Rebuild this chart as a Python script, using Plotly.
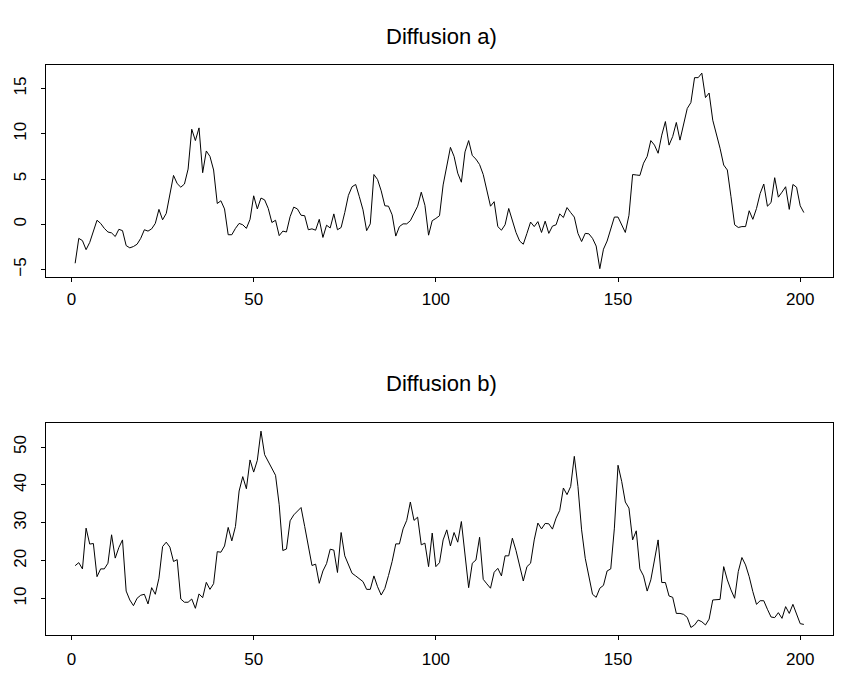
import plotly.graph_objects as go

x_idx = list(range(1, 202))

a_vals = [-4.3, -1.55, -1.8, -2.8, -2.0, -0.85, 0.45, 0.1, -0.45, -0.85,
          -0.95, -1.35, -0.55, -0.7, -2.35, -2.6, -2.45, -2.2, -1.55, -0.6,
          -0.75, -0.5, 0.1, 1.65, 0.5, 1.2, 3.1, 5.4, 4.5, 4.1,
          4.45, 6.1, 10.5, 9.25, 10.65, 5.7, 8.1, 7.5, 6.0, 2.3,
          2.6, 1.7, -1.15, -1.15, -0.45, 0.1, -0.05, -0.45, 0.55, 3.15,
          1.7, 2.9, 2.7, 1.75, 0.2, 0.45, -1.25, -0.75, -0.85, 0.85,
          1.9, 1.7, 1.0, 0.95, -0.6, -0.5, -0.65, 0.55, -1.45, -0.1,
          -0.4, 1.15, -0.6, -0.35, 1.3, 3.2, 4.15, 4.4, 3.05, 1.6,
          -0.7, 0.05, 5.5, 4.95, 3.7, 2.05, 2.0, 1.05, -1.3, -0.25,
          0.05, 0.05, 0.4, 1.3, 2.0, 3.55, 2.1, -1.2, 0.4, 0.65,
          0.95, 4.35, 6.5, 8.5, 7.5, 5.65, 4.65, 8.0, 9.25, 7.6,
          7.2, 6.6, 5.5, 3.7, 2.0, 2.5, -0.25, -0.65, -0.05, 1.75,
          0.35, -0.9, -1.85, -2.2, -1.0, 0.25, -0.25, 0.3, -0.9, 0.35,
          -1.0, -0.2, -0.05, 1.15, 0.75, 1.85, 1.3, 0.8, -1.0, -1.9,
          -1.0, -1.05, -1.55, -2.4, -4.9, -2.75, -1.85, -0.4, 0.8, 0.8,
          -0.05, -0.9, 1.0, 5.5, 5.45, 5.4, 6.75, 7.5, 9.25, 8.75,
          7.85, 9.85, 11.35, 8.75, 9.7, 11.25, 9.3, 11.15, 12.8, 13.45,
          16.2, 16.2, 16.7, 14.0, 14.5, 11.5, 10.05, 8.4, 6.55, 6.0,
          3.05, -0.05, -0.35, -0.25, -0.25, 1.5, 0.55, 1.75, 3.4, 4.45,
          2.0, 2.4, 5.15, 3.0, 3.55, 4.15, 1.65, 4.4, 4.1, 2.05,
          1.3]

b_vals = [18.7, 19.5, 17.85, 28.6, 24.4, 24.55, 15.8, 17.85, 17.85, 19.35,
          26.85, 20.7, 23.5, 25.5, 12.0, 9.65, 8.15, 10.1, 10.9, 11.15,
          8.6, 12.9, 11.15, 15.4, 23.75, 24.9, 23.6, 19.8, 20.3, 9.9,
          9.05, 9.05, 9.9, 7.45, 11.25, 10.25, 14.3, 12.45, 13.95, 22.4,
          22.25, 23.9, 28.8, 25.25, 29.05, 38.4, 42.2, 39.0, 46.6, 43.4,
          46.5, 54.2, 48.0, 46.1, 44.3, 42.55, 34.8, 22.7, 23.1, 30.55,
          32.1, 33.0, 34.05, 29.05, 23.75, 18.75, 19.1, 14.05, 17.3, 19.25,
          23.05, 22.8, 16.9, 27.45, 21.3, 18.9, 16.7, 16.0, 15.2, 14.5,
          12.45, 12.45, 16.0, 13.15, 10.95, 12.7, 16.1, 19.8, 24.45, 24.45,
          28.4, 30.65, 35.5, 30.65, 31.5, 24.2, 24.65, 18.45, 27.3, 18.45,
          19.5, 25.5, 28.15, 23.9, 27.45, 24.9, 30.35, 21.55, 12.9, 19.35,
          20.2, 26.2, 15.1, 13.9, 12.75, 16.95, 18.0, 16.0, 21.3, 21.3,
          25.95, 22.7, 18.45, 14.65, 18.45, 19.35, 25.5, 29.95, 28.4, 29.85,
          29.75, 28.35, 31.25, 33.3, 39.2, 37.45, 39.6, 47.55, 39.6, 28.15,
          20.65, 16.25, 11.15, 10.35, 12.75, 13.5, 17.3, 17.85, 28.6, 45.2,
          40.95, 35.5, 33.9, 25.5, 27.9, 17.85, 16.0, 12.0, 14.95, 20.2,
          25.5, 14.25, 14.25, 10.7, 10.35, 6.1, 6.1, 5.85, 5.05, 2.4,
          3.05, 4.35, 3.9, 3.05, 4.6, 9.65, 9.65, 9.8, 18.45, 14.95,
          12.3, 10.1, 17.15, 20.85, 18.9, 15.8, 11.85, 8.5, 9.45, 9.45,
          7.2, 5.15, 5.0, 6.3, 4.8, 7.9, 6.1, 8.5, 5.95, 3.4,
          3.2]

x_ticks = [0, 50, 100, 150, 200]
a_ticks = [-5, 0, 5, 10, 15]
b_ticks = [10, 20, 30, 40, 50]
titles = ["Diffusion a)", "Diffusion b)"]

# page has an 8px body margin, so the figure is 8px smaller and offset
OFF = 8
W, H = 847 - OFF, 675 - OFF
FONT = "Liberation Sans, Arial, Helvetica, sans-serif"


def padded(v):
    lo, hi = min(v), max(v)
    d = hi - lo
    return [lo - 0.04 * d, hi + 0.04 * d]


def px_x(sx):
    return (sx - OFF) / W


def px_y(sy):
    return 1 - (sy - OFF) / H


fig = go.Figure()
fig.add_trace(go.Scatter(x=x_idx, y=a_vals, mode="lines",
                         line=dict(color="black", width=1),
                         xaxis="x", yaxis="y", showlegend=False))
fig.add_trace(go.Scatter(x=x_idx, y=b_vals, mode="lines",
                         line=dict(color="black", width=1),
                         xaxis="x2", yaxis="y2", showlegend=False))

x_dom = [px_x(46), px_x(833)]
x_range = [1 - 0.04 * 200, 201 + 0.04 * 200]

common = dict(showgrid=False, zeroline=False, showline=True, linecolor="black",
              linewidth=1, ticks="outside", ticklen=4, tickcolor="black",
              tickwidth=1, mirror=True,
              tickfont=dict(family=FONT, size=17, color="black"))

fig.update_layout(
    width=W, height=H,
    margin=dict(l=0, r=0, t=0, b=0),
    paper_bgcolor="white", plot_bgcolor="white",
    xaxis=dict(domain=x_dom, range=x_range, anchor="y",
               tickvals=x_ticks, ticklabelstandoff=3, **common),
    yaxis=dict(domain=[px_y(276.5), px_y(65.3)], range=padded(a_vals),
               anchor="x", tickvals=a_ticks, tickangle=-90,
               ticklabelstandoff=8, **common),
    xaxis2=dict(domain=x_dom, range=x_range, anchor="y2",
                tickvals=x_ticks, ticklabelstandoff=4, **common),
    yaxis2=dict(domain=[px_y(635.3), px_y(423.3)], range=padded(b_vals),
                anchor="x2", tickvals=b_ticks, tickangle=-90,
                ticklabelstandoff=8, **common),
    annotations=[
        dict(text=titles[0], xref="paper", yref="paper", x=px_x(441), y=px_y(37),
             xanchor="center", yanchor="middle", showarrow=False,
             font=dict(family=FONT, size=22, color="black")),
        dict(text=titles[1], xref="paper", yref="paper", x=px_x(441), y=px_y(383),
             xanchor="center", yanchor="middle", showarrow=False,
             font=dict(family=FONT, size=22, color="black")),
    ],
)

fig.write_html("out.html")
